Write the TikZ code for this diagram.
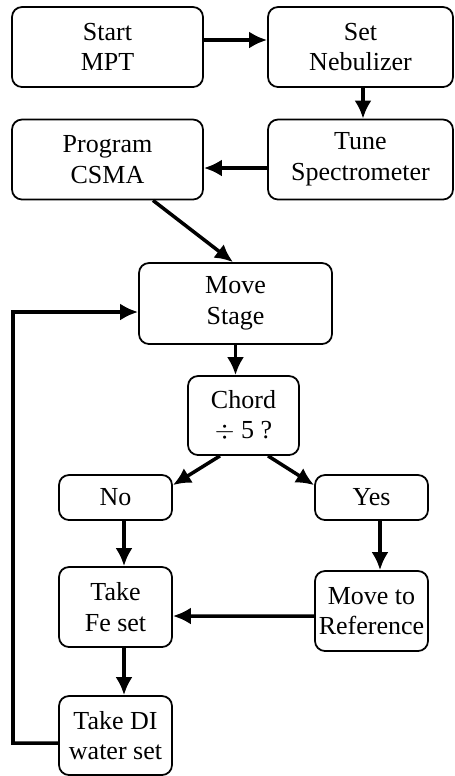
\documentclass[tikz,border=0pt]{standalone}
\usepackage{fontspec}
\setmainfont{Liberation Serif}
\usetikzlibrary{arrows.meta}

\tikzstyle{base}=[rectangle,
                    draw=black,
                    line width=1pt,
                    rounded corners=0.2cm,
                    align=center,
                    inner sep=0pt,
                    font=\fontsize{14.8}{17.5}\selectfont,
                    text centered]
\tikzstyle{wide}=[base, minimum width=3.82cm, minimum height=1.6cm]
\tikzstyle{narrow}=[base, minimum width=2.26cm, minimum height=1.6cm]
\tikzstyle{answer}=[base, minimum width=2.26cm, minimum height=0.9cm]
\tikzstyle{flow}=[line width=2pt, -{Latex[length=0.36cm,width=0.34cm]}]

\begin{document}
\begin{tikzpicture}
    \useasboundingbox (0,0) rectangle (9.08,-15.52);

      \node at (2.15,  -0.94) (start_mpt)   [wide]                     {Start\\MPT};
      \node at (7.21,  -0.94) (set_neb)     [wide, minimum width=3.7cm] {Set\\Nebulizer};
      \node at (7.21,  -3.19) (tune_spec)   [wide, minimum width=3.7cm] {Tune\\Spectrometer};
      \node at (2.15,  -3.19) (prog_csma)   [wide]                     {Program\\CSMA};
      \node at (4.71,  -6.07) (move_stage)  [wide, minimum width=3.86cm, minimum height=1.62cm] {Move\\Stage};
      \node at (4.87,  -8.31) (chord)       [narrow, minimum width=2.22cm, minimum height=1.58cm] {Chord\\$\div$ 5 ?};
      \node at (2.31,  -9.95) (no)          [answer]                   {No};
      \node at (7.43,  -9.95) (yes)         [answer]                   {Yes};
      \node at (2.31, -12.14) (take_fe)     [narrow]                   {Take\\Fe set};
      \node at (7.43, -12.22) (move_ref)    [narrow]                   {Move to\\Reference};
      \node at (2.31, -14.71) (take_di)     [narrow, minimum height=1.58cm] {Take DI\\water set};
      \coordinate (loop) at (0.26, -14.86);

      \draw[flow] ([yshift=0.14cm]start_mpt.east) -- ([yshift=0.14cm]set_neb.west);
      \draw[flow] ([xshift=0.05cm]set_neb.south)  -- ([xshift=0.05cm]tune_spec.north);
      \draw[flow] ([yshift=-0.17cm]tune_spec.west) -- ([yshift=-0.17cm]prog_csma.east);
      \draw[flow] ([xshift=0.91cm]prog_csma.south) -- ([xshift=-0.05cm]move_stage.north);
      \draw[flow] (move_stage.south)              -- (move_stage.south |- chord.north);
      \draw[flow] ([xshift=-0.47cm]chord.south)   -- ([yshift=-0.22cm]no.north east);
      \draw[flow] ([xshift=0.49cm]chord.south)    -- ([yshift=-0.22cm]yes.north west);
      \draw[flow] ([xshift=0.17cm]no.south)       -- ([xshift=0.17cm]take_fe.north);
      \draw[flow] ([xshift=0.17cm]yes.south)      -- ([xshift=0.17cm]move_ref.north);
      \draw[flow] ([yshift=-0.1cm]move_ref.west)  -- ([yshift=-0.18cm]take_fe.east);
      \draw[flow] ([xshift=0.17cm]take_fe.south)  -- ([xshift=0.17cm]take_di.north);
      \draw[flow] ([yshift=-0.15cm]take_di.west)  -- (loop) |- ([yshift=-0.17cm]move_stage.west);
  \end{tikzpicture}
\end{document}
